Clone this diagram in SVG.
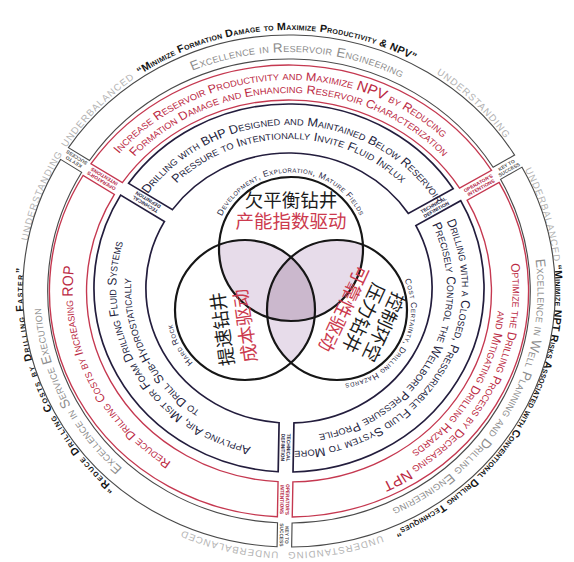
<svg xmlns="http://www.w3.org/2000/svg" width="574" height="562" viewBox="0 0 574 562">
<defs>
<style>
text{font-family:"Liberation Sans",Arial,sans-serif}
.sc{font-variant:small-caps}
.mid{text-anchor:middle}
.outer{font-weight:bold;font-size:10.5px;fill:#141414;letter-spacing:.2px}
.ug{font-size:9.5px;fill:#b3b3b3;letter-spacing:1px}
.key{font-size:13px;fill:#8d8d8d;letter-spacing:.2px}
.op{font-size:11.8px;fill:#bb2943}
.tech{font-size:12px;fill:#231d3d}
.lbl{font-size:4.8px;font-weight:bold;text-anchor:middle}
.lk{fill:#555}
.lo{fill:#b3223f}
.lt{fill:#231d3d}
.venn{font-size:8.5px;fill:#231d3d;letter-spacing:.5px}
.cjk{font-family:"Noto Sans CJK SC",sans-serif;font-size:18.5px;text-anchor:middle}
.ink{fill:#1c1c1c}
.rd{fill:#cc3a4e}
.bk{fill:none;stroke:#4a4a4a;stroke-width:1.1}
.bo{fill:none;stroke:#c53850;stroke-width:1.3}
.bt{fill:none;stroke:#231d3d;stroke-width:1.6}
.vc{fill:none;stroke:#161616;stroke-width:2.2}
.lav{fill:#e7dcea}
.lav2{fill:#cbb8cd}
.big{font-size:1.2em}
</style>
<!-- half-circle guides, centred on angle 0; each caption rotates onto its own angle -->
<path id="a261" d="M0,-261A261,261 0 0 1 261,0A261,261 0 0 1 0,261"/>
<path id="a239" d="M0,-239A239,239 0 0 1 239,0A239,239 0 0 1 0,239"/>
<path id="a211" d="M0,-211A211,211 0 0 1 211,0A211,211 0 0 1 0,211"/>
<path id="a204" d="M0,-204A204,204 0 0 1 204,0A204,204 0 0 1 0,204"/>
<path id="a198" d="M0,-198A198,198 0 0 1 198,0A198,198 0 0 1 0,198"/>
<path id="a163" d="M0,-163A163,163 0 0 1 163,0A163,163 0 0 1 0,163"/>
<path id="a149" d="M0,-149A149,149 0 0 1 149,0A149,149 0 0 1 0,149"/>
<path id="a76" d="M0,-76.5A76.5,76.5 0 0 1 76.5,0A76.5,76.5 0 0 1 0,76.5"/>
<path id="a74" d="M0,-74A74,74 0 0 1 74,0A74,74 0 0 1 0,74"/>
<clipPath id="cTop"><circle cx="2" cy="-42" r="72"/></clipPath>
<clipPath id="cLeft"><circle cx="-44" cy="19" r="70"/></clipPath>
</defs>
<rect width="574" height="562" fill="#fff"/>
<g transform="translate(289,291)">

<!-- outer quotes and keywords -->
<g id="outer-captions" transform="scale(1.02,1)">
<g class="sc outer mid">
<text transform="rotate(267)"><textPath href="#a261" startOffset="50%">“Minimize Formation Damage to Maximize Productivity &amp; NPV”</textPath></text>
<text transform="rotate(30.5)"><textPath href="#a261" startOffset="50%">“Minimize NPT Risks Associated with Conventional Drilling Techniques”</textPath></text>
<text transform="rotate(158)" letter-spacing="1.3"><textPath href="#a261" startOffset="50%">“Reduce Drilling Costs by Drilling Faster”</textPath></text>
</g>
<g class="ug mid">
<text transform="rotate(201.5)"><textPath href="#a261" startOffset="50%">UNDERSTANDING</textPath></text>
<text transform="rotate(224)"><textPath href="#a261" startOffset="50%">UNDERBALANCED</textPath></text>
<text transform="rotate(314)"><textPath href="#a261" startOffset="50%">UNDERSTANDING</textPath></text>
<text transform="rotate(343)"><textPath href="#a261" startOffset="50%">UNDERBALANCED</textPath></text>
<text transform="rotate(80)"><textPath href="#a261" startOffset="50%">UNDERSTANDING</textPath></text>
<text transform="rotate(103)"><textPath href="#a261" startOffset="50%">UNDERBALANCED</textPath></text>
</g>
</g>

<!-- key to success ring -->
<g id="ring-key" transform="scale(1.04,1)">
<g id="key-top">
<path class="bk" d="M-212.066,-143.401A256,256 0 0 1 216.941,-135.912L196.254,-123.726A232,232 0 0 0 -191.816,-130.501Z"/>
<text class="sc key mid" transform="rotate(272)"><textPath href="#a239" startOffset="50%">Excellence in Reservoir Engineering</textPath></text>
</g>
<g id="key-right">
<path class="bk" d="M224.047,-123.850A256,256 0 0 1 2.533,255.987L2.952,231.981A232,232 0 0 0 203.360,-111.664Z"/>
<text class="sc key mid" transform="rotate(29)"><textPath href="#a239" startOffset="50%">Excellence in Well Planning and Drilling Engineering</textPath></text>
</g>
<g id="key-left">
<path class="bk" d="M-11.465,255.743A256,256 0 0 1 -219.588,-131.593L-199.338,-118.693A232,232 0 0 0 -11.046,231.737Z"/>
<text class="sc key mid" transform="rotate(154)"><textPath href="#a239" startOffset="50%">Excellence in Service Execution</textPath></text>
</g>
<g id="key-labels">
<g transform="rotate(212.5)"><text class="lbl lk" x="244" y="-0.6">KEY TO</text><text class="lbl lk" x="244" y="4.6">SUCCESS</text></g>
<g transform="rotate(329.5)"><text class="lbl lk" x="244" y="-0.6">KEY TO</text><text class="lbl lk" x="244" y="4.6">SUCCESS</text></g>
<g transform="rotate(91)"><text class="lbl lk" x="244" y="-0.6">KEY TO</text><text class="lbl lk" x="244" y="4.6">SUCCESS</text></g>
</g>
</g>

<!-- operator's intentions ring -->
<g id="ring-operator" transform="scale(1.06,1)">
<g id="op-top">
<path class="bo" d="M-186.754,-127.276A226,226 0 0 1 191.083,-120.680L160.908,-102.906A191,191 0 0 0 -157.219,-108.460Z"/>
<text class="sc op mid" transform="rotate(267)"><textPath href="#a211" startOffset="50%">Increase Reservoir Productivity and Maximize <tspan class="big">NPV</tspan> by Reducing</textPath></text>
<text class="sc op mid" transform="rotate(270)"><textPath href="#a198" startOffset="50%">Formation Damage and Enhancing Reservoir Characterization</textPath></text>
</g>
<g id="op-right">
<path class="bo" d="M198.189,-108.618A226,226 0 0 1 3.057,225.980L3.668,190.965A191,191 0 0 0 168.014,-90.844Z"/>
<text class="sc op mid" transform="rotate(29)"><textPath href="#a211" startOffset="50%">Optimize the Drilling Process by Decreasing <tspan class="big">NPT</tspan></textPath></text>
<text class="sc op mid" transform="rotate(30)"><textPath href="#a198" startOffset="50%">and Mitigating Drilling Hazards</textPath></text>
</g>
<g id="op-left">
<path class="bo" d="M-10.941,225.736A226,226 0 0 1 -194.276,-115.468L-164.741,-96.652A191,191 0 0 0 -10.330,190.721Z"/>
<text class="sc op mid" font-size="12.5" transform="rotate(155)"><textPath href="#a204" startOffset="50%">Reduce Drilling Costs by Increasing <tspan class="big">ROP</tspan></textPath></text>
</g>
<g id="op-labels">
<g transform="rotate(212.5)"><text class="lbl lo" x="208.5" y="-0.6">OPERATOR'S</text><text class="lbl lo" x="208.5" y="4.6">INTENTIONS</text></g>
<g transform="rotate(329.5)"><text class="lbl lo" x="208.5" y="-0.6">OPERATOR'S</text><text class="lbl lo" x="208.5" y="4.6">INTENTIONS</text></g>
<g transform="rotate(91)"><text class="lbl lo" x="208.5" y="-0.6">OPERATOR'S</text><text class="lbl lo" x="208.5" y="4.6">INTENTIONS</text></g>
</g>
</g>

<!-- technical definition ring -->
<g id="ring-technical" transform="translate(0,-3) scale(1.06,1)">
<g id="tech-top">
<path class="bt" d="M-151.311,-104.696A184,184 0 0 1 154.872,-99.351L112.610,-74.456A135,135 0 0 0 -109.943,-78.342Z"/>
<text class="sc tech mid" transform="rotate(272)"><textPath href="#a163" startOffset="50%">Drilling with BHP Designed and Maintained Below Reservoir</textPath></text>
<text class="sc tech mid" transform="rotate(270)"><textPath href="#a149" startOffset="50%">Pressure to Intentionally Invite Fluid Influx</textPath></text>
</g>
<g id="tech-right">
<path class="bt" d="M161.978,-87.289A184,184 0 0 1 3.790,183.961L4.646,134.920A135,135 0 0 0 119.715,-62.394Z"/>
<text class="sc tech mid" transform="rotate(32)"><textPath href="#a163" startOffset="50%">Drilling with a Closed, Pressurizable Fluid System to More</textPath></text>
<text class="sc tech mid" transform="rotate(27)"><textPath href="#a149" startOffset="50%">Precisely Control the Wellbore Pressure Profile</textPath></text>
</g>
<g id="tech-left">
<path class="bt" d="M-10.208,183.717A184,184 0 0 1 -158.833,-92.888L-117.465,-66.534A135,135 0 0 0 -9.352,134.676Z"/>
<text class="sc tech mid" transform="rotate(149.5)"><textPath href="#a163" startOffset="50%">Applying Air, Mist or Foam Drilling Fluid Systems</textPath></text>
<text class="sc tech mid" transform="rotate(154)"><textPath href="#a149" startOffset="50%">to Drill Sub-Hydrostatically</textPath></text>
</g>
<g id="tech-labels">
<g transform="rotate(212.5)"><text class="lbl lt" x="159.5" y="-0.6">TECHNICAL</text><text class="lbl lt" x="159.5" y="4.6">DEFINITION</text></g>
<g transform="rotate(329.5)"><text class="lbl lt" x="159.5" y="-0.6">TECHNICAL</text><text class="lbl lt" x="159.5" y="4.6">DEFINITION</text></g>
<g transform="rotate(91)"><text class="lbl lt" x="159.5" y="-0.6">TECHNICAL</text><text class="lbl lt" x="159.5" y="4.6">DEFINITION</text></g>
</g>
</g>

<!-- three-circle core -->
<g id="venn">
<circle cx="-44" cy="19" r="70" class="lav" clip-path="url(#cTop)"/>
<circle cx="48" cy="19" r="70" class="lav" clip-path="url(#cTop)"/>
<circle cx="48" cy="19" r="70" class="lav" clip-path="url(#cLeft)"/>
<g clip-path="url(#cTop)"><circle cx="48" cy="19" r="70" class="lav2" clip-path="url(#cLeft)"/></g>
<circle class="vc" cx="2" cy="-42" r="72"/>
<circle class="vc" cx="-44" cy="19" r="70"/>
<circle class="vc" cx="48" cy="19" r="70"/>
<text class="sc venn mid" transform="translate(2,-42) rotate(270)"><textPath href="#a76" startOffset="50%">Development, Exploration, Mature Fields</textPath></text>
<text class="sc venn mid" font-size="9" transform="translate(-44,19) rotate(152)" letter-spacing="1.2"><textPath href="#a74" startOffset="50%">Hard Rock</textPath></text>
<text class="sc venn mid" transform="translate(48,19) rotate(30)" letter-spacing="1.2"><textPath href="#a74" startOffset="50%">Cost Certainty, Drilling Hazards</textPath></text>
</g>
<g id="venn-top">
<text class="cjk ink" font-size="17.5" x="2" y="-84">欠平衡钻井</text>
<text class="cjk rd" font-size="17.5" x="2" y="-63">产能指数驱动</text>
</g>
<g id="venn-left" transform="translate(-55.5,36.5) rotate(-98)">
<text class="cjk ink" x="0" y="-4.5">提速钻井</text>
<text class="cjk rd" x="0" y="18.5">成本驱动</text>
</g>
<g id="venn-right" transform="translate(75,27) rotate(115)">
<text class="cjk ink" x="0" y="-15">控制环空</text>
<text class="cjk ink" x="0" y="7">压力钻井</text>
<text class="cjk rd" x="0" y="29">可靠性驱动</text>
</g>
</g>
</svg>
